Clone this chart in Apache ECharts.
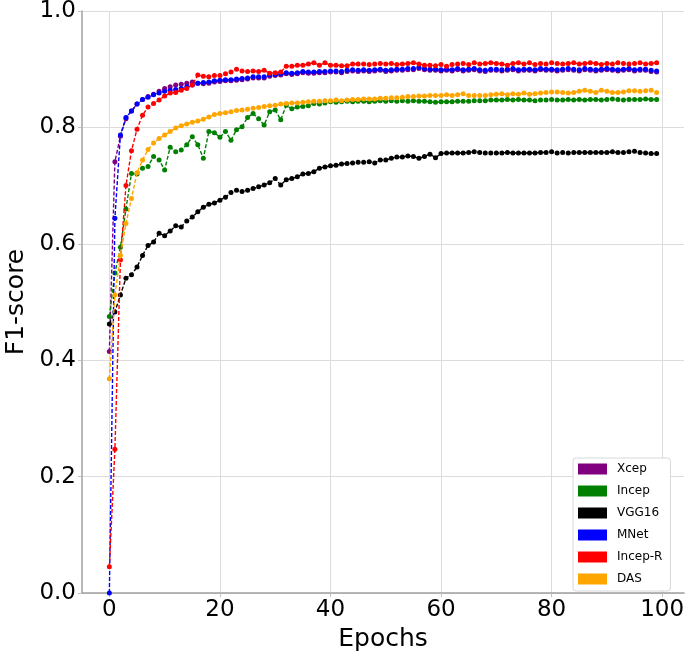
<!DOCTYPE html>
<html>
<head>
<meta charset="utf-8">
<script src="https://cdn.jsdelivr.net/npm/echarts@6/dist/echarts.min.js"></script>
<style>html,body{margin:0;padding:0;background:#fff;}#c{width:685px;height:656px;}</style>
</head>
<body>
<div id="c"></div>
<script>
const epochs = Array.from({length: 100}, (_, i) => i);
const xTicks = [0, 20, 40, 60, 80, 100];
const yTicks = [0, 0.2, 0.4, 0.6, 0.8, 1.0];
const seriesNames = ['Xcep', 'Incep', 'VGG16', 'MNet', 'Incep-R', 'DAS'];
const seriesColors = ['#800080', '#008000', '#000000', '#0000ff', '#ff0000', '#ffa500'];

const xcep = [
0.415,0.741,0.785,0.815,0.828,0.840,0.848,0.853,0.857,0.862,
0.867,0.870,0.873,0.874,0.876,0.878,0.876,0.875,0.876,0.878,
0.879,0.880,0.880,0.881,0.882,0.883,0.885,0.885,0.885,0.888,
0.889,0.890,0.892,0.891,0.892,0.894,0.893,0.893,0.894,0.894,
0.895,0.895,0.894,0.896,0.897,0.896,0.897,0.896,0.897,0.898,
0.896,0.897,0.898,0.898,0.899,0.899,0.901,0.899,0.898,0.898,
0.897,0.898,0.897,0.899,0.897,0.898,0.899,0.897,0.896,0.898,
0.898,0.897,0.898,0.899,0.897,0.898,0.898,0.897,0.899,0.898,
0.898,0.897,0.898,0.899,0.898,0.897,0.899,0.898,0.897,0.898,
0.899,0.898,0.897,0.898,0.899,0.897,0.898,0.898,0.896,0.895];

const incep = [
0.475,0.550,0.594,0.660,0.721,0.720,0.730,0.733,0.750,0.744,
0.727,0.766,0.758,0.761,0.770,0.784,0.770,0.747,0.793,0.791,
0.783,0.793,0.778,0.796,0.801,0.817,0.824,0.815,0.804,0.827,
0.830,0.813,0.838,0.832,0.835,0.836,0.837,0.841,0.840,0.842,
0.844,0.843,0.844,0.845,0.844,0.845,0.845,0.844,0.845,0.846,
0.845,0.846,0.845,0.846,0.845,0.846,0.845,0.845,0.844,0.843,
0.844,0.844,0.844,0.845,0.845,0.845,0.846,0.846,0.846,0.847,
0.847,0.847,0.848,0.847,0.848,0.847,0.847,0.846,0.847,0.847,
0.848,0.847,0.847,0.848,0.847,0.848,0.847,0.848,0.848,0.847,
0.848,0.849,0.848,0.847,0.848,0.848,0.848,0.849,0.848,0.848];

const vgg16 = [
0.462,0.483,0.512,0.541,0.547,0.560,0.580,0.597,0.603,0.618,
0.614,0.622,0.631,0.629,0.639,0.646,0.655,0.663,0.668,0.670,
0.675,0.680,0.688,0.692,0.690,0.692,0.695,0.698,0.701,0.705,
0.712,0.701,0.710,0.712,0.715,0.720,0.721,0.724,0.730,0.732,
0.734,0.735,0.737,0.738,0.739,0.740,0.740,0.741,0.739,0.744,
0.744,0.747,0.749,0.749,0.751,0.750,0.747,0.750,0.754,0.748,
0.755,0.756,0.756,0.756,0.756,0.757,0.758,0.757,0.756,0.756,
0.756,0.756,0.757,0.756,0.756,0.756,0.756,0.756,0.757,0.757,
0.758,0.756,0.757,0.756,0.757,0.757,0.757,0.757,0.757,0.757,
0.757,0.758,0.757,0.757,0.758,0.759,0.757,0.756,0.755,0.755];

const mnet = [
0.000,0.644,0.787,0.817,0.828,0.840,0.848,0.852,0.856,0.859,
0.862,0.864,0.865,0.867,0.870,0.873,0.876,0.877,0.878,0.880,
0.881,0.882,0.882,0.883,0.884,0.885,0.887,0.887,0.887,0.890,
0.891,0.892,0.894,0.893,0.894,0.896,0.895,0.895,0.896,0.896,
0.897,0.897,0.896,0.898,0.899,0.898,0.899,0.898,0.899,0.900,
0.898,0.899,0.900,0.900,0.901,0.901,0.903,0.901,0.900,0.900,
0.899,0.900,0.899,0.901,0.899,0.900,0.901,0.899,0.898,0.900,
0.900,0.899,0.900,0.901,0.899,0.900,0.900,0.899,0.901,0.900,
0.900,0.899,0.900,0.901,0.900,0.899,0.901,0.900,0.899,0.900,
0.901,0.900,0.899,0.900,0.901,0.899,0.900,0.900,0.898,0.897];

const incepR = [
0.045,0.247,0.572,0.700,0.760,0.797,0.821,0.835,0.841,0.847,
0.854,0.859,0.860,0.864,0.867,0.873,0.890,0.888,0.887,0.889,
0.889,0.892,0.895,0.900,0.897,0.896,0.897,0.896,0.898,0.893,
0.894,0.895,0.905,0.905,0.907,0.907,0.909,0.911,0.907,0.911,
0.907,0.907,0.906,0.906,0.909,0.909,0.909,0.908,0.909,0.910,
0.909,0.910,0.908,0.909,0.910,0.911,0.909,0.907,0.907,0.906,
0.908,0.905,0.908,0.909,0.910,0.908,0.911,0.909,0.910,0.911,
0.910,0.909,0.907,0.910,0.911,0.909,0.911,0.908,0.910,0.909,
0.911,0.910,0.909,0.910,0.911,0.909,0.910,0.911,0.910,0.908,
0.910,0.909,0.911,0.910,0.909,0.910,0.911,0.909,0.910,0.911];

const das = [
0.368,0.512,0.580,0.635,0.678,0.722,0.744,0.762,0.773,0.781,
0.787,0.793,0.799,0.803,0.806,0.809,0.811,0.814,0.818,0.822,
0.824,0.825,0.827,0.829,0.830,0.831,0.833,0.834,0.836,0.837,
0.838,0.840,0.841,0.842,0.842,0.843,0.844,0.845,0.845,0.846,
0.846,0.847,0.846,0.847,0.848,0.848,0.849,0.849,0.849,0.850,
0.850,0.851,0.851,0.852,0.853,0.853,0.854,0.854,0.855,0.855,
0.855,0.856,0.855,0.856,0.858,0.855,0.855,0.855,0.855,0.856,
0.857,0.858,0.856,0.858,0.857,0.859,0.857,0.858,0.859,0.860,
0.861,0.861,0.860,0.859,0.860,0.862,0.864,0.862,0.860,0.864,
0.862,0.860,0.860,0.861,0.863,0.863,0.862,0.863,0.864,0.860];

const seriesValues = [xcep, incep, vgg16, mnet, incepR, das];

const FONT = 'DejaVu Sans';
const chart = echarts.init(document.getElementById('c'), null, {renderer: 'canvas'});

const series = seriesNames.map((name, k) => ({
  name: name,
  type: 'line',
  data: epochs.map((e, i) => [e, seriesValues[k][i]]),
  symbol: 'circle',
  symbolSize: 5,
  showSymbol: true,
  itemStyle: {color: seriesColors[k]},
  lineStyle: {color: seriesColors[k], width: 1.4, type: [4, 2]},
  emphasis: {disabled: true},
  z: 2 + k
}));

chart.setOption({
  animation: false,
  backgroundColor: '#ffffff',
  textStyle: {fontFamily: FONT},
  grid: {left: 82, right: 1, top: 11, bottom: 63, containLabel: false, outerBoundsMode: 'none'},
  xAxis: {
    type: 'value',
    min: -4.95,
    max: 103.95,
    name: 'Epochs',
    nameLocation: 'middle',
    nameGap: 33,
    nameTextStyle: {fontFamily: FONT, fontSize: 25, color: '#000'},
    axisLine: {show: true, onZero: false, lineStyle: {color: '#a0a0a0', width: 1.5}},
    axisTick: {show: true, customValues: xTicks, length: 4, lineStyle: {color: '#c0c0c0'}},
    axisLabel: {customValues: xTicks, fontFamily: FONT, fontSize: 23, color: '#000', margin: 6},
    splitLine: {show: true, lineStyle: {color: '#dcdcdc', width: 1}}
  },
  yAxis: {
    type: 'value',
    min: 0,
    max: 1,
    interval: 0.2,
    name: 'F1-score',
    nameLocation: 'middle',
    nameGap: 52,
    nameTextStyle: {fontFamily: FONT, fontSize: 25, color: '#000'},
    axisLine: {show: true, onZero: false, lineStyle: {color: '#a0a0a0', width: 1.5}},
    axisTick: {show: true, length: 4, lineStyle: {color: '#c0c0c0'}},
    axisLabel: {fontFamily: FONT, fontSize: 23, color: '#000', margin: 6,
      formatter: v => v.toFixed(1)},
    splitLine: {show: true, lineStyle: {color: '#dcdcdc', width: 1}}
  },
  legend: {
    data: seriesNames.map((n, k) => ({name: n, icon: 'rect', itemStyle: {color: seriesColors[k]}})),
    orient: 'vertical',
    left: 573,
    top: 458,
    width: 102,
    itemWidth: 29,
    itemHeight: 11,
    itemGap: 10,
    padding: [5, 8, 6, 5],
    backgroundColor: '#ffffff',
    borderColor: '#d8d8d8',
    borderWidth: 1,
    borderRadius: 3,
    selectedMode: false,
    textStyle: {fontFamily: FONT, fontSize: 12, color: '#000', padding: [0, 0, 0, 5]}
  },
  series: series
});
</script>
</body>
</html>
